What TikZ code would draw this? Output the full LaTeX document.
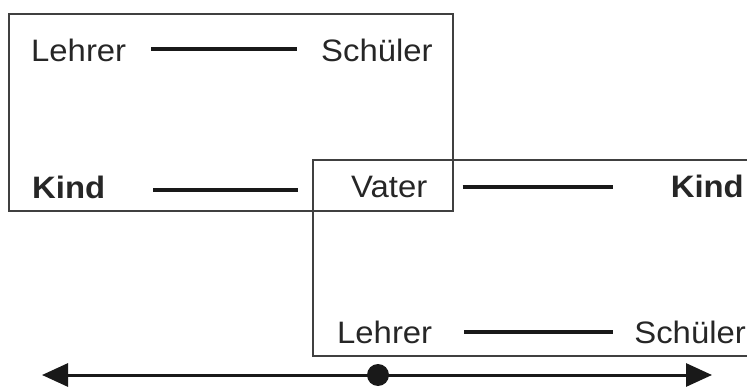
\documentclass[tikz,border=0pt]{standalone}
\usepackage{fontspec}
\setmainfont{Liberation Sans}[FakeStretch=1.06]
\usetikzlibrary{arrows.meta}

\tikzset{
  lbl/.style={inner sep=0pt, font=\fontsize{31}{36}\selectfont, text=black!85},
  frame/.style={draw=black!75, line width=1.4pt},
  link/.style={draw=black!90, line width=3.4pt},
  axis/.style={draw=black!90, line width=3pt, -{Triangle[length=26pt,width=23pt]}},
  dot/.style={circle, fill=black!90, inner sep=0pt, minimum size=22pt}
}

\begin{document}
\begin{tikzpicture}[x=1pt,y=-1pt]
  \useasboundingbox (0,0) rectangle (747,387);

  % the two overlapping frames
  \draw[frame] (9,14) rectangle (453,211);
  \draw[frame] (747,160) -- (313,160) -- (313,356) -- (747,356);

  % labels
  \node[lbl, anchor=base west] (lehrerA)   at (31,62)   {Lehrer};
  \node[lbl, anchor=base west] (schuelerA) at (321,62)  {Schüler};
  \node[lbl, anchor=base west] (kindA)     at (32,199)  {\bfseries Kind};
  \node[lbl, anchor=base west] (vater)     at (351,198) {Vater};
  \node[lbl, anchor=base east] (kindB)     at (744,198) {\bfseries Kind};
  \node[lbl, anchor=base west] (lehrerB)   at (337,343) {Lehrer};
  \node[lbl, anchor=base east] (schuelerB) at (746,343) {Schüler};

  % relations
  \draw[link] ([xshift=25pt,yshift=13pt]lehrerA.base east) -- ([xshift=-24pt,yshift=13pt]schuelerA.base west);
  \draw[link] ([xshift=48pt,yshift=9pt]kindA.base east) -- ([xshift=-53pt,yshift=8pt]vater.base west);
  \draw[link] ([xshift=35pt,yshift=11pt]vater.base east) -- ([xshift=-58pt,yshift=11pt]kindB.base west);
  \draw[link] ([xshift=32pt,yshift=11pt]lehrerB.base east) -- ([xshift=-21pt,yshift=11pt]schuelerB.base west);

  % double-headed axis with the centre point
  \coordinate (tipL) at (42,375);
  \coordinate (tipR) at (712,375);
  \node[dot] (mid) at (378,375) {};
  \draw[axis] (mid.center) -- (tipL);
  \draw[axis] (mid.center) -- (tipR);
\end{tikzpicture}
\end{document}
